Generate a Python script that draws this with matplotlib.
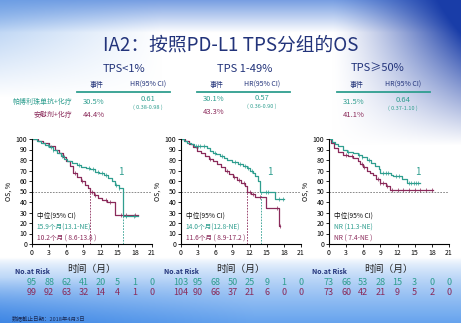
import numpy as np
import matplotlib
matplotlib.use("Agg")
import matplotlib.pyplot as plt

plt.rcParams['font.family'] = ['Noto Sans CJK SC', 'DejaVu Sans']

W, H = 461, 323
TEAL = '#2f9e8f'
PLUM = '#8a2a5a'
NAVY = '#22337a'

# ---- data ----
panels = ['TPS<1%', 'TPS 1-49%', 'TPS≥50%']
events_pem = ['30.5%', '30.1%', '31.5%']
events_pla = ['44.4%', '43.3%', '41.1%']
hr = ['0.61', '0.57', '0.64']
hr_ci = ['( 0.38-0.98 )', '( 0.36-0.90 )', '( 0.37-1.10 )']
median_pem = ['15.9个月(13.1-NE)', '14.0个月(12.8-NE)', 'NR (11.3-NE)']
median_pla = ['10.2个月 ( 8.6-13.8 )', '11.6个月 ( 8.9-17.2 )', 'NR ( 7.4-NE )']
median_t_pem = [15.9, 14.0, None]
median_t_pla = [10.2, 11.6, None]
risk_times = [0, 3, 6, 9, 12, 15, 18, 21]
risk_pem = [[95, 88, 62, 41, 20, 5, 1, 0],
            [103, 95, 68, 50, 25, 9, 1, 0],
            [73, 66, 53, 28, 15, 3, 0, 0]]
risk_pla = [[99, 92, 63, 32, 14, 4, 1, 0],
            [104, 90, 66, 37, 21, 6, 0, 0],
            [73, 60, 42, 21, 9, 5, 2, 0]]

# KM step curves (time, OS %), last point = end of follow-up
km_pem_t = [
    [0, 0.8, 1.5, 2.2, 3.0, 3.6, 4.3, 5.0, 5.6, 6.2, 7.0, 7.8, 8.6, 9.4, 10.2, 11.0, 11.8, 12.6, 13.3, 14.0, 14.6, 15.2, 15.9, 18.5],
    [0, 0.5, 1.0, 1.7, 2.3, 4.5, 5.0, 5.6, 6.2, 6.8, 7.5, 8.0, 9.0, 10.0, 10.8, 11.5, 12.1, 12.6, 13.0, 13.4, 13.8, 16.4, 18.0],
    [0, 0.5, 1.0, 1.6, 2.4, 3.2, 4.2, 5.0, 5.8, 6.6, 7.4, 8.0, 8.7, 9.0, 10.8, 11.2, 12.8, 13.6, 16.0]]
km_pem_s = [
    [100, 98, 96, 94, 92, 90, 87, 84, 81, 79, 77, 75, 73, 72, 71, 69, 68, 66, 63, 60, 56, 53, 27, 27],
    [100, 98, 96, 95, 93, 91, 89, 87, 86, 84, 82, 80, 78, 76, 74, 72, 70, 68, 65, 60, 50, 43, 43],
    [100, 97, 95, 93, 90, 88, 87, 85, 83, 80, 77, 74, 71, 68, 66, 65, 62, 58, 58]]
km_pla_t = [
    [0, 1.0, 2.0, 3.0, 4.0, 4.8, 5.4, 6.0, 6.6, 7.2, 7.8, 8.5, 9.2, 9.8, 10.2, 10.8, 11.5, 12.3, 13.2, 14.5, 18.5],
    [0, 0.7, 1.4, 2.1, 2.8, 3.5, 4.2, 4.9, 5.6, 6.3, 7.0, 7.7, 8.4, 9.1, 9.8, 10.5, 11.2, 11.6, 12.3, 13.0, 14.9, 17.1, 17.4],
    [0, 0.3, 0.8, 1.5, 2.5, 3.3, 4.2, 5.0, 5.5, 6.0, 6.6, 7.2, 7.7, 8.3, 8.9, 10.0, 10.6, 18.2]]
km_pla_s = [
    [100, 98, 96, 93, 90, 87, 83, 79, 74, 68, 64, 60, 56, 53, 50, 47, 44, 42, 40, 28, 28],
    [100, 98, 95, 92, 89, 87, 84, 81, 79, 76, 73, 70, 67, 64, 61, 58, 55, 50, 48, 45, 34, 17, 17],
    [100, 96, 91, 88, 85, 84, 82, 79, 76, 73, 70, 68, 66, 62, 58, 55, 51, 51]]
cens_pem = [
    [2.8, 3.3, 3.6, 5.2, 8.3, 9.9, 10.6, 11.5, 12.3, 13.0, 14.7, 15.2, 16.5, 17.8],
    [2.6, 3.0, 3.3, 4.0, 6.0, 7.2, 9.5, 10.3, 11.2, 11.8, 12.4, 14.8, 15.3, 17.2, 17.8],
    [3.4, 5.2, 5.8, 7.0, 9.5, 10.0, 10.3, 11.8, 12.2, 14.0, 14.4, 14.8, 15.2, 15.6]]
cens_pla = [
    [5.6, 7.5, 8.8, 10.5, 11.0, 13.0, 13.6, 15.5, 16.5, 18.0],
    [5.0, 8.0, 9.3, 10.2, 11.0, 12.0, 12.6, 13.8, 16.8, 17.4],
    [3.0, 4.0, 5.8, 6.2, 8.6, 9.0, 9.4, 10.2, 11.0, 12.0, 13.0, 14.0, 15.0, 16.0, 17.0, 18.0]]


def fx(x):
    return x / W


def fy(y):
    return 1 - y / H


def step_val(t, s, c):
    i = np.searchsorted(t, c, side='right') - 1
    return s[max(i, 0)]


def ramp(v):
    return np.clip(v, 0, 1)


fig = plt.figure(figsize=(W / 100, H / 100), dpi=100)

# background: white centre, blue corners, light blue skyline band at the bottom
bg = fig.add_axes([0, 0, 1, 1], zorder=-10)
yy, xx = np.mgrid[0:1:H * 1j, 0:1:W * 1j]
img = np.ones((H, W, 3))


def blend(img, a, col):
    a = np.clip(a, 0, 1)[..., None]
    return img * (1 - a) + np.array(col) * a


img = blend(img, ramp(1 - yy / 0.10) * 0.75, (0.30, 0.50, 0.85))
img = blend(img, ramp((xx - 0.72) / 0.28) ** 1.3 * ramp(1 - yy / 0.45) * 1.3, (0.10, 0.24, 0.66))
img = blend(img, ramp(1 - xx / 0.35) * ramp(1 - yy / 0.30) * 0.6, (0.40, 0.62, 0.90))
img = blend(img, ramp((yy - 0.80) / 0.20) ** 0.7 * 0.85, (0.30, 0.58, 0.92))
img = blend(img, ramp((yy - 0.86) / 0.14) * ramp(1 - xx / 0.55) * 0.7, (0.18, 0.48, 0.88))
bg.imshow(img, aspect='auto', extent=[0, 1, 0, 1])
bg.axis('off')

fig.text(0.5, fy(45), 'IA2：按照PD-L1 TPS分组的OS', ha='center', va='center',
         fontsize=13.5, color=NAVY)

fig.text(fx(72), fy(102), '帕博利珠单抗+化疗', ha='right', va='center', fontsize=5, color=TEAL)
fig.text(fx(72), fy(115), '安慰剂+化疗', ha='right', va='center', fontsize=5, color=PLUM)

hdr_x = [124, 245, 378]
ev_x = [97, 217, 357]
hr_x = [148, 262, 403]
line_x = [(77, 170), (197, 290), (337, 430)]
ax_left = [32, 181, 329]
ev_y = [(102, 115), (99, 112), (102, 115)]
hr_y = [(99, 107), (98, 106), (100, 108)]

for i in range(3):
    fig.text(fx(hdr_x[i]), fy(69), panels[i], ha='center', va='center', fontsize=8, color=NAVY)
    fig.text(fx(ev_x[i]), fy(85), '事件', ha='center', va='center', fontsize=5, color=NAVY)
    fig.text(fx(hr_x[i]), fy(85), 'HR(95% CI)', ha='center', va='center', fontsize=5, color=NAVY)
    fig.add_artist(plt.Line2D([fx(line_x[i][0]), fx(line_x[i][1])], [fy(92), fy(92)],
                              color=TEAL, lw=1.3))
    fig.text(fx(ev_x[i] - 3), fy(ev_y[i][0]), events_pem[i], ha='center', va='center', fontsize=5.5, color=TEAL)
    fig.text(fx(ev_x[i] - 3), fy(ev_y[i][1]), events_pla[i], ha='center', va='center', fontsize=5.5, color=PLUM)
    fig.text(fx(hr_x[i]), fy(hr_y[i][0]), hr[i], ha='center', va='center', fontsize=5.5, color=TEAL)
    fig.text(fx(hr_x[i]), fy(hr_y[i][1]), hr_ci[i], ha='center', va='center', fontsize=4, color=TEAL)

    ax = fig.add_axes([fx(ax_left[i]), fy(244), 120 / W, 105 / H])
    ax.patch.set_alpha(0)
    for sp in ['top', 'right']:
        ax.spines[sp].set_visible(False)
    ax.set_xlim(0, 21)
    ax.set_ylim(0, 100)
    ax.set_xticks(risk_times)
    ax.set_yticks(range(0, 101, 10))
    ax.tick_params(labelsize=5, length=2, width=0.6, pad=1.5)
    ax.set_ylabel('OS, %', fontsize=5, labelpad=2)
    ax.set_xlabel('时间（月）', fontsize=7, labelpad=5, color='#222222')

    ax.axhline(50, color='#777777', lw=0.6, ls=(0, (2, 1.5)))
    if median_t_pem[i] is not None:
        ax.plot([median_t_pem[i]] * 2, [0, 50], color=TEAL, lw=0.6, ls=(0, (2, 1.5)))
        ax.plot([median_t_pla[i]] * 2, [0, 50], color=PLUM, lw=0.6, ls=(0, (2, 1.5)))

    for t, s, cs, col in [(km_pla_t[i], km_pla_s[i], cens_pla[i], PLUM),
                          (km_pem_t[i], km_pem_s[i], cens_pem[i], TEAL)]:
        ax.step(t, s, where='post', color=col, lw=0.9)
        cy = [step_val(np.array(t), s, c) for c in cs]
        ax.plot(cs, cy, ls='none', marker='|', ms=3, mew=0.5, color=col)

    ax.text(15.6, 69, '1', color=TEAL, fontsize=7, ha='center', va='center')
    ax.text(0.8, 27, '中位(95% CI)', fontsize=4.8, color='#111111', va='center')
    ax.text(0.8, 16, median_pem[i], fontsize=4.8, color=TEAL, va='center')
    ax.text(0.8, 5, median_pla[i], fontsize=4.8, color=PLUM, va='center')

    tr = ax.get_xaxis_transform()
    ax.text(-3.0, -0.26, 'No.at Risk', transform=tr, fontsize=5, color=NAVY,
            fontweight='bold', va='center', clip_on=False)
    for tt, a, b in zip(risk_times, risk_pem[i], risk_pla[i]):
        ax.text(tt, -0.37, str(a), transform=tr, fontsize=6.5, color=TEAL,
                ha='center', va='center', clip_on=False)
        ax.text(tt, -0.465, str(b), transform=tr, fontsize=6.5, color=PLUM,
                ha='center', va='center', clip_on=False)

fig.text(fx(12), fy(318), '数据截止日期：2018年4月3日', fontsize=4, color='#1a2a55',
         va='center')

fig.savefig('out.png', dpi=100)
